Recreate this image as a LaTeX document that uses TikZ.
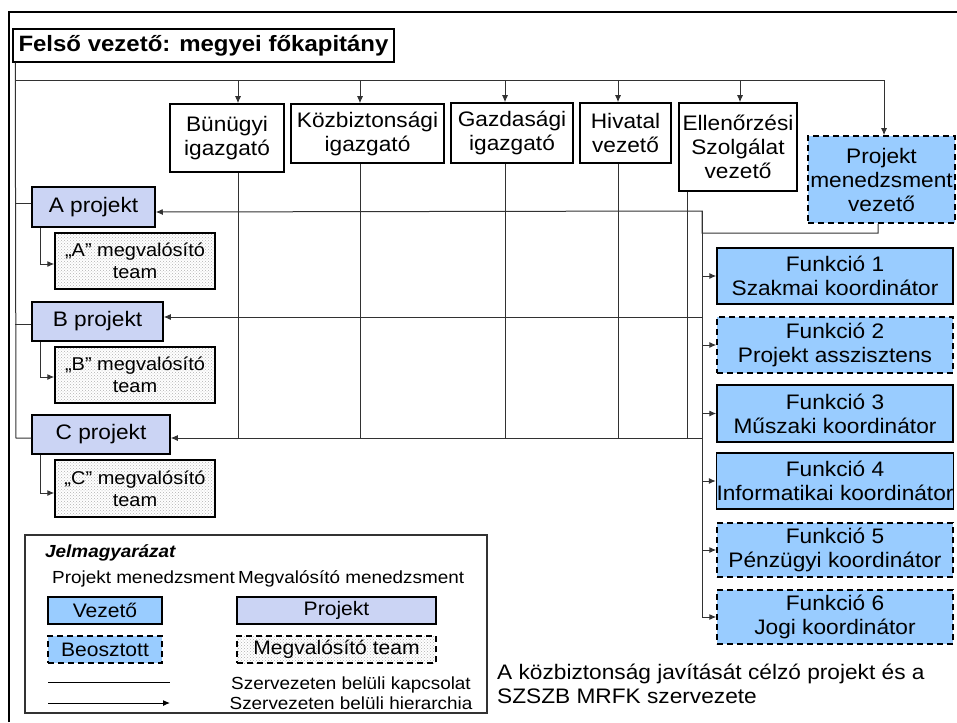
\documentclass[tikz,border=0pt]{standalone}
\usepackage{fontspec}
\setmainfont{Liberation Sans}[FakeStretch=1.08]
\usetikzlibrary{arrows.meta,patterns,calc}
\definecolor{pmblue}{RGB}{153,204,255}
\definecolor{projfill}{RGB}{203,212,244}
\definecolor{linec}{RGB}{50,50,50}
\begin{document}
\begin{tikzpicture}[x=1pt,y=-1pt,
  box/.style={draw=black, line width=1.5pt, inner sep=0pt, align=center, font=\fontsize{21}{24}\selectfont},
  dirbox/.style={box, fill=white},
  vez/.style={box, fill=pmblue},
  beo/.style={box, fill=pmblue, dash pattern=on 6pt off 4pt},
  proj/.style={box, fill=projfill},
  teambox/.style={box, preaction={fill=white}, pattern=crosshatch dots, pattern color=black!30, font=\fontsize{18.5}{22}\selectfont},
  legtext/.style={font=\fontsize{17.5}{20}\selectfont, inner sep=0pt},
  legbox/.style={font=\fontsize{19.5}{22}\selectfont},
  conn/.style={draw=linec, line width=1pt},
  arr/.style={conn, -{Latex[length=7pt,width=6pt]}},
]
\useasboundingbox (0,0) rectangle (957,722);
% outer frame
\draw[line width=1.2pt] (9,722) -- (9,12) -- (957,12);

% header
\node[dirbox, font=\fontsize{22.2}{26}\selectfont\bfseries, minimum width=381pt, minimum height=33pt] (hdr) at (203.5,45.5) {Felső vezető: megyei főkapitány};

% directors
\node[dirbox, minimum width=114pt, minimum height=68pt] (bun) at (227,138) {Bünügyi\\igazgató};
\node[dirbox, minimum width=153pt, minimum height=59pt] (kozb) at (367.5,133.5) {Közbiztonsági\\igazgató};
\node[dirbox, minimum width=122pt, minimum height=60pt] (gazd) at (512,133) {Gazdasági\\igazgató};
\node[dirbox, minimum width=91pt, minimum height=60pt] (hiv) at (625.5,133) {Hivatal\\vezető};
\node[dirbox, minimum width=118pt, minimum height=88pt] (ell) at (738,147) {Ellenőrzési\\Szolgálat\\vezető};
\node[beo, minimum width=147pt, minimum height=87pt] (pmv) at (881.5,179.5) {Projekt\\menedzsment\\vezető};

% projects
\node[proj, minimum width=123pt, minimum height=40pt] (pA) at (93.5,207) {A projekt};
\node[proj, minimum width=131pt, minimum height=39pt] (pB) at (97.5,321.5) {B projekt};
\node[proj, minimum width=138pt, minimum height=39pt] (pC) at (101,434.5) {C projekt};

% teams
\node[teambox, minimum width=160pt, minimum height=56pt] (tA) at (135,261) {„A” megvalósító\\team};
\node[teambox, minimum width=160pt, minimum height=56pt] (tB) at (135,375) {„B” megvalósító\\team};
\node[teambox, minimum width=160pt, minimum height=57pt] (tC) at (135,488.5) {„C” megvalósító\\team};

% functions
\node[vez, minimum width=236pt, minimum height=56pt] (f1) at (835,276) {Funkció 1\\Szakmai koordinátor};
\node[beo, minimum width=236pt, minimum height=56pt] (f2) at (835,345) {Funkció 2\\Projekt asszisztens};
\node[vez, minimum width=236pt, minimum height=57pt] (f3) at (835,413.5) {Funkció 3\\Műszaki koordinátor};
\node[vez, minimum width=236pt, minimum height=56pt] (f4) at (835,481) {Funkció 4\\Informatikai koordinátor};
\node[beo, minimum width=236pt, minimum height=54pt] (f5) at (835,550) {Funkció 5\\Pénzügyi koordinátor};
\node[beo, minimum width=236pt, minimum height=54pt] (f6) at (835,617) {Funkció 6\\Jogi koordinátor};

% helper coordinates
\coordinate (busy) at (0,81);
\coordinate (boty) at (0,438);
\coordinate (x1) at (238,0);
\coordinate (x2) at (360,0);
\coordinate (x3) at (505,0);
\coordinate (x4) at (618,0);
\coordinate (x5) at (740,0);
\coordinate (x5d) at (687,0);
\coordinate (xl) at (16,0);
\coordinate (xr) at (702,0);
\coordinate (ya) at (0,211);
\coordinate (yb) at (0,317);
\coordinate (yp) at (0,233);

% left vertical and stubs
\draw[conn] ($(hdr.south west)+(3,0)$) -- (xl |- boty) -- ($(pC.west)+(0,3.5)$);
\draw[conn] ($(pA.west)+(0,-4)$) -- +(-16,0);
\draw[conn] ($(pB.west)+(0,2.5)$) -- +(-16,0);

% top bus
\draw[arr] (xl |- busy) -| ($(pmv.north)+(2.5,0)$);
\draw[arr] (x1 |- busy) -- (x1 |- bun.north);
\draw[arr] (x2 |- busy) -- (x2 |- kozb.north);
\draw[arr] (x3 |- busy) -- (x3 |- gazd.north);
\draw[arr] (x4 |- busy) -- (x4 |- hiv.north);
\draw[arr] (x5 |- busy) -- (x5 |- ell.north);

% director verticals
\draw[conn] (x1 |- bun.south) -- (x1 |- boty);
\draw[conn] (x2 |- kozb.south) -- (x2 |- boty);
\draw[conn] (x3 |- gazd.south) -- (x3 |- boty);
\draw[conn] (x4 |- hiv.south) -- (x4 |- boty);
\draw[conn] (x5d |- ell.south) -- (x5d |- boty);

% project management chain
\draw[arr] ($(pmv.south)+(-3.5,0)$) |- (xr |- yp) -- (xr |- ya) -- ($(pA.east)+(0,5)$);
\draw[arr] (xr |- yb) -- ($(pB.east)+(0,-4.5)$);
\draw[arr] (xr |- boty) -- ($(pC.east)+(0,3.5)$);
\draw[arr] (xr |- ya) |- (f6.west);
\draw[arr] (xr |- f1.west) -- (f1.west);
\draw[arr] (xr |- f2.west) -- (f2.west);
\draw[arr] (xr |- f3.west) -- (f3.west);
\draw[arr] (xr |- f4.west) -- (f4.west);
\draw[arr] (xr |- f5.west) -- (f5.west);

% project to team
\draw[arr] ($(pA.south west)+(9,0)$) |- ($(tA.west)+(0,3)$);
\draw[arr] ($(pB.south west)+(9,0)$) |- ($(tB.west)+(0,2)$);
\draw[arr] ($(pC.south west)+(9,0)$) |- ($(tC.west)+(0,4.5)$);

% legend
\node[draw=linec, line width=1.2pt, minimum width=462pt, minimum height=178pt, inner sep=0pt] (leg) at (256,624) {};
\node[legtext, anchor=west, font=\fontsize{17.5}{20}\selectfont\bfseries\itshape] (legt) at (45,553) {Jelmagyarázat};
\node[legtext, anchor=west] (lpm) at (52,579) {Projekt menedzsment};
\node[legtext, anchor=west] (lmm) at (238,579) {Megvalósító menedzsment};
\node[vez, legbox, minimum width=114pt, minimum height=27pt] (lvez) at (105,610.5) {Vezető};
\node[beo, legbox, minimum width=114pt, minimum height=27pt] (lbeo) at (105,649.5) {Beosztott};
\node[proj, legbox, minimum width=199pt, minimum height=27pt] (lproj) at (336.5,610.5) {Projekt};
\node[teambox, legbox, dash pattern=on 6pt off 4pt, minimum width=199pt, minimum height=27pt] (lteam) at (336.5,649.5) {Megvalósító team};
\coordinate (la1) at (48,682);
\coordinate (lb1) at (170,682);
\coordinate (la2) at (48,703);
\coordinate (lb2) at (170,703);
\draw[conn, draw=black] (la1) -- (lb1);
\draw[arr, draw=black] (la2) -- (lb2);
\node[legtext, align=center] (lkap) at (351,693) {Szervezeten belüli kapcsolat\\Szervezeten belüli hierarchia};

% caption
\node[anchor=west, align=left, inner sep=0pt, font=\fontsize{21}{24}\selectfont] (cap) at (497,684) {A közbiztonság javítását célzó projekt és a\\SZSZB MRFK szervezete};
\end{tikzpicture}
\end{document}
